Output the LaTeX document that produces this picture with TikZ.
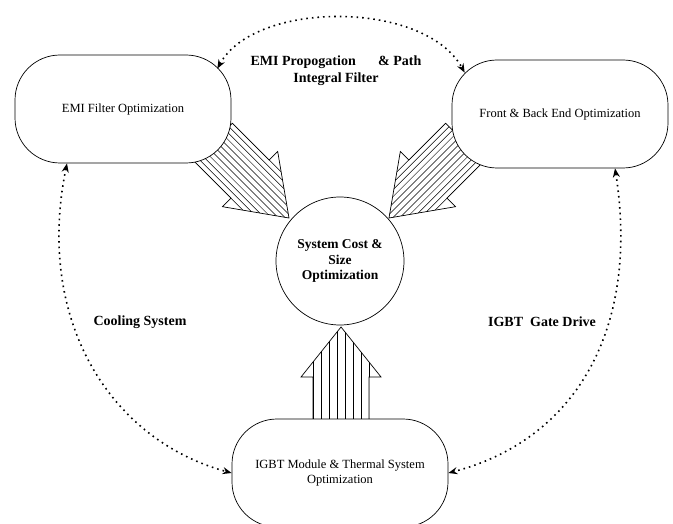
\documentclass[tikz,border=0pt]{standalone}
\usepackage{fontspec}
\setmainfont{Liberation Serif}
\usetikzlibrary{arrows.meta, positioning}

% striped block arrow, tip at the origin, pointing along +x
% #1 shaft length, #2 head length, #3 shaft half width, #4 head half width, #5 stripe gaps
\tikzset{
  pics/hatcharrow/.style n args={5}{code={
    \begin{scope}
      \clip (0,0) -- (-#2,#4) -- (-#2,#3) -- (-#2-#1,#3) -- (-#2-#1,-#3)
            -- (-#2,-#3) -- (-#2,-#4) -- cycle;
      \foreach \i in {0,...,#5}
        \draw[line width=0.5pt] ({-#2-#1},{-#3+2*#3*\i/#5}) -- (0,{-#3+2*#3*\i/#5});
    \end{scope}
    \draw[line width=0.7pt] (0,0) -- (-#2,#4) -- (-#2,#3) -- (-#2-#1,#3) -- (-#2-#1,-#3)
          -- (-#2,-#3) -- (-#2,-#4) -- cycle;
  }}
}

\begin{document}
\begin{tikzpicture}[x=1pt, y=-1pt,
  optbox/.style={draw, fill=white, line width=0.7pt, rounded corners=45pt,
                 minimum width=216pt, minimum height=108pt, inner sep=0pt,
                 align=center, font=\fontsize{12.5}{15}\selectfont},
  hub/.style={draw, fill=white, line width=0.7pt, circle, minimum size=128pt,
              inner sep=0pt, align=center, font=\fontsize{13.5}{15.5}\selectfont\bfseries},
  lbl/.style={align=center, font=\fontsize{14}{17}\selectfont\bfseries},
  link/.style={{Stealth[length=9pt,width=7pt]}-{Stealth[length=9pt,width=7pt]},
               line width=1.6pt, dash pattern=on 1.6pt off 4pt}]

  \useasboundingbox (0,0) rectangle (673,524);

  % striped arrows into the centre
  \pic[rotate=-45]  at (289,218) {hatcharrow={52}{55}{27}{39}{11}};
  \pic[rotate=-135] at (389,218) {hatcharrow={52}{55}{27}{39}{11}};
  \pic[rotate=90]   at (341,327) {hatcharrow={46}{50}{28}{40}{7}};

  \node[optbox] (emi)  at (123,109) {EMI Filter Optimization};
  \node[optbox] (fbe)  at (560,114) {Front \& Back End Optimization};
  \node[optbox] (igbt) at (340,473) {IGBT Module \& Thermal System\\Optimization};
  \node[hub]    (cost) at (340,261) {System Cost \&\\Size\\Optimization};

  \node[lbl] (emiprop) at (336,71)  {EMI Propogation\hspace{1.6em}\& Path\\Integral Filter};
  \node[lbl] (cool)    at (140,322) {Cooling System};
  \node[lbl] (gate)    at (542,322) {IGBT\ \ Gate Drive};

  % dotted links between the outer blocks
  \draw[link] ([xshift=-14pt,yshift=-14pt]emi.north east)
      .. controls (255,0) and (425,0) .. ([xshift=13pt,yshift=-13pt]fbe.north west);
  \draw[link] ([xshift=-56pt]emi.south) .. controls (35,320) and (110,440) .. (igbt.west);
  \draw[link] ([xshift=55pt]fbe.south) .. controls (640,330) and (575,440) .. (igbt.east);
\end{tikzpicture}
\end{document}
